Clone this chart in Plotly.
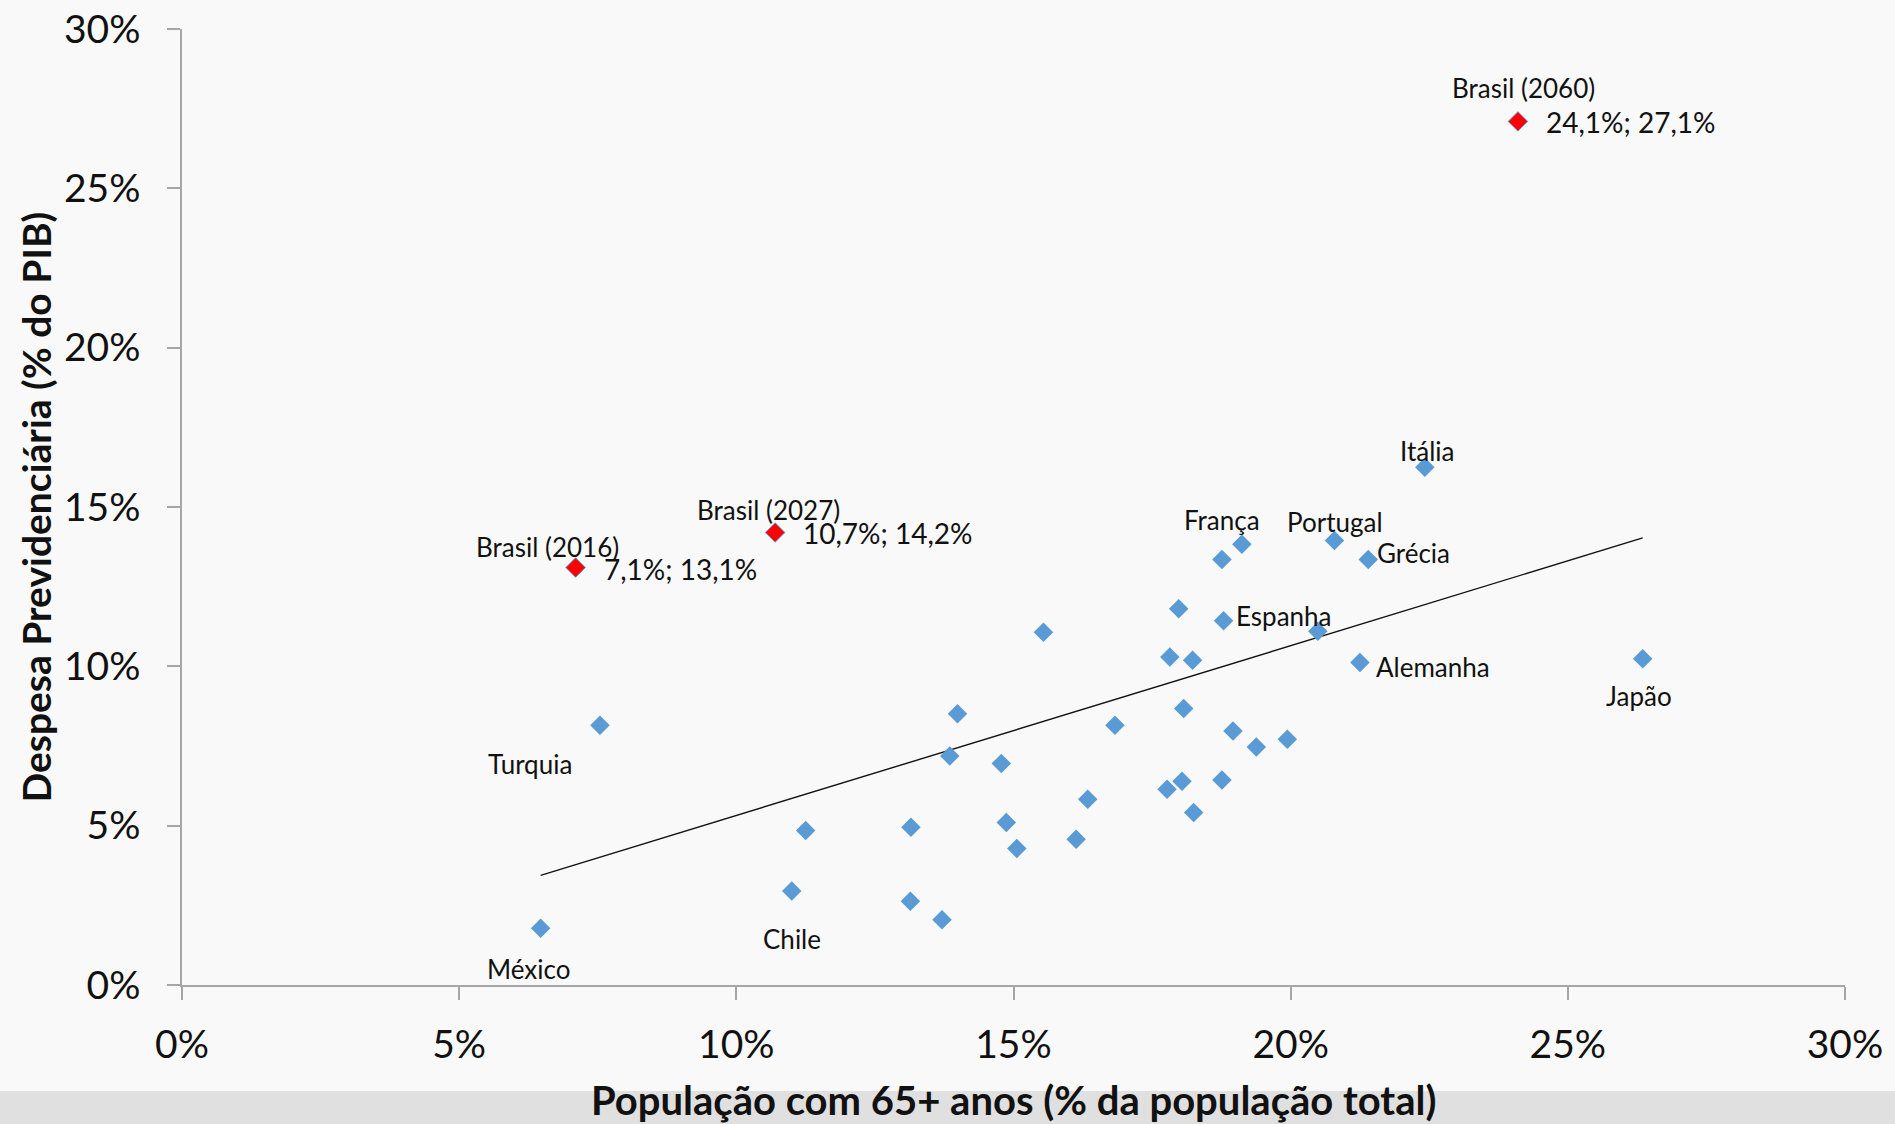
import plotly.graph_objects as go

# Countries: population aged 65+ (% of total) vs pension spending (% of GDP)
pop_65 = [22.42, 19.12, 18.76, 20.79, 21.40, 17.98, 18.79, 20.49, 15.54, 17.82,
          18.23, 21.25, 26.35, 13.99, 18.07, 16.83, 18.96, 19.94, 19.38, 13.85,
          14.78, 18.76, 18.04, 17.77, 16.34, 18.25, 11.25, 13.15, 14.87, 16.13,
          15.06, 11.00, 13.14, 13.71, 6.47, 7.54]
spending = [16.25, 13.83, 13.35, 13.95, 13.35, 11.81, 11.43, 11.10, 11.07, 10.29,
            10.19, 10.12, 10.24, 8.51, 8.68, 8.15, 7.97, 7.71, 7.47, 7.19,
            6.95, 6.43, 6.39, 6.14, 5.83, 5.41, 4.85, 4.95, 5.10, 4.57,
            4.28, 2.95, 2.63, 2.05, 1.78, 8.15]
country_names = ["Itália", "França", "", "Portugal", "Grécia", "", "Espanha", "", "", "",
                 "", "Alemanha", "Japão", "", "", "", "", "", "", "",
                 "", "", "", "", "", "", "", "", "", "",
                 "", "Chile", "", "", "México", "Turquia"]

# Brazil: current value and projections
brasil_labels = ["Brasil (2016)", "Brasil (2027)", "Brasil (2060)"]
brasil_pop = [7.1, 10.7, 24.1]
brasil_spend = [13.1, 14.2, 27.1]

# Linear trend over the country sample (endpoints)
trend_x = [6.47, 26.35]
trend_y = [3.44, 14.03]

x_ticks = [0, 5, 10, 15, 20, 25, 30]
y_ticks = [0, 5, 10, 15, 20, 25, 30]
x_tick_text = [f"{v}%" for v in x_ticks]
y_tick_text = [f"{v}%" for v in y_ticks]

FONT = "Lato"
BLUE = "#5b9bd5"

fig = go.Figure()

fig.add_trace(go.Scatter(
    x=trend_x, y=trend_y, mode="lines",
    line=dict(color="#111111", width=1.4),
    hoverinfo="skip", showlegend=False))

fig.add_trace(go.Scatter(
    x=pop_65, y=spending, mode="markers",
    marker=dict(symbol="diamond", size=15, color=BLUE, line=dict(width=0)),
    text=country_names, showlegend=False))

fig.add_trace(go.Scatter(
    x=brasil_pop, y=brasil_spend, mode="markers",
    marker=dict(symbol="diamond", size=15, color="#ff0000",
                line=dict(width=1, color=BLUE)),
    text=brasil_labels, showlegend=False))

annotations = []

# Country name labels: (name -> xshift, yshift, anchor)
label_offsets = {
    "Itália": (2, 16, "center"),
    "França": (-20, 24, "center"),
    "Portugal": (1, 18, "center"),
    "Grécia": (7, 7, "left"),
    "Espanha": (10, 5, "left"),
    "Alemanha": (14, -4, "left"),
    "Japão": (-4, -37, "center"),
    "Turquia": (-70, -39, "center"),
    "Chile": (0, -48, "center"),
    "México": (-12, -41, "center"),
}
for xv, yv, name in zip(pop_65, spending, country_names):
    if name in label_offsets:
        dx, dy, anchor = label_offsets[name]
        annotations.append(dict(
            x=xv, y=yv, xref="x", yref="y", text=name, showarrow=False,
            xanchor=anchor, yanchor="middle", xshift=dx, yshift=dy,
            font=dict(family=FONT, size=26, color="#111111")))

# Brazil labels: name above and "x; y" value to the right
name_shifts = [(-28, 21), (-7, 22), (6, 33)]
for (xv, yv, name), (dx, dy) in zip(zip(brasil_pop, brasil_spend, brasil_labels), name_shifts):
    annotations.append(dict(
        x=xv, y=yv, xref="x", yref="y", text=name, showarrow=False,
        xanchor="center", yanchor="middle", xshift=dx, yshift=dy,
        font=dict(family=FONT, size=26, color="#111111")))
    value_txt = f"{xv:.1f}%; {yv:.1f}%".replace(".", ",")
    annotations.append(dict(
        x=xv, y=yv, xref="x", yref="y", text=value_txt, showarrow=False,
        xanchor="left", yanchor="middle", xshift=26, yshift=-1,
        font=dict(family=FONT, size=28, color="#111111")))

# Axis titles
annotations.append(dict(
    x=-0.0875, y=0.5, xref="paper", yref="paper", showarrow=False,
    text="<b>Despesa Previdenciária (% do PIB)</b>", textangle=-90,
    xanchor="center", yanchor="middle",
    font=dict(family=FONT, size=39, color="#111111")))
annotations.append(dict(
    x=0.5, y=-0.1203, xref="paper", yref="paper", showarrow=False,
    text="<b>População com 65+ anos (% da população total)</b>",
    xanchor="center", yanchor="middle",
    font=dict(family=FONT, size=40, color="#111111")))

axis_common = dict(
    showgrid=False, zeroline=False, showline=True, automargin=False,
    linecolor="#a6a6a6", linewidth=1.5,
    ticks="outside", ticklen=13, tickwidth=1.5, tickcolor="#a6a6a6",
    tickfont=dict(family=FONT, size=39, color="#111111"),
    fixedrange=True)

fig.update_layout(
    width=1895, height=1124,
    margin=dict(l=181.5, r=50, t=29, b=139, autoexpand=False),
    paper_bgcolor="#f9f9f9", plot_bgcolor="rgba(0,0,0,0)",
    xaxis=dict(range=[0, 30], tickvals=x_ticks, ticktext=x_tick_text,
               ticklabelstandoff=11, **axis_common),
    yaxis=dict(range=[0, 30], tickvals=y_ticks, ticktext=y_tick_text,
               ticklabelstandoff=19, **axis_common),
    annotations=annotations,
    shapes=[dict(type="rect", xref="paper", yref="paper",
                 x0=-0.12, x1=1.04, y0=-0.1454, y1=-0.1109,
                 fillcolor="#e0e0e0", line=dict(width=0), layer="below")],
    showlegend=False,
)

fig.write_html("out.html")
